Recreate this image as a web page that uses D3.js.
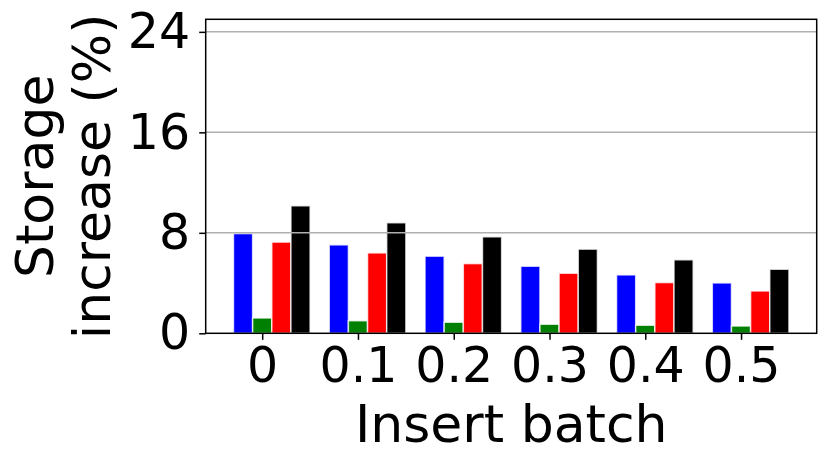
<!DOCTYPE html>
<html><head><meta charset="utf-8">
<script src="https://cdn.jsdelivr.net/npm/d3@7"></script>
<style>body{margin:0;background:#fff}svg{display:block}text{font-family:"DejaVu Sans",sans-serif}</style>
</head><body>
<svg id="c" width="830" height="466"></svg>
<script>
const categories = ["0","0.1","0.2","0.3","0.4","0.5"];
const blueVals  = [7.94, 7.04, 6.14, 5.34, 4.65, 4.01];
const greenVals = [1.22, 1.00, 0.88, 0.72, 0.64, 0.58];
const redVals   = [7.26, 6.40, 5.55, 4.78, 4.04, 3.37];
const blackVals = [10.15, 8.80, 7.68, 6.70, 5.85, 5.10];
const seriesColors = ["#0000ff","#008000","#ff0000","#000000"];
const yTicks = [0, 8, 16, 24];

const svg = d3.select("#c");
const L = 205.7, R = 816.7, T = 19.3, B = 333.3;
const x = d3.scaleLinear().domain([-0.59, 5.79]).range([L, R]);
const y = d3.scaleLinear().domain([0, 25]).range([B, T]);
const barW = 0.2;
const series = [blueVals, greenVals, redVals, blackVals];

const gBars = svg.append("g");
series.forEach((vals, k) => {
  gBars.selectAll(null).data(vals).enter().append("rect")
    .attr("x", (d,i) => x(i + (k-1)*barW - barW/2))
    .attr("width", x(barW) - x(0))
    .attr("y", d => y(d))
    .attr("height", d => y(0) - y(d))
    .attr("fill", seriesColors[k])
    .attr("stroke", "#fff").attr("stroke-width", 1.5).attr("stroke-opacity", 0.75);
});

// grid (drawn over bars)
svg.append("g").selectAll("line").data(yTicks.filter(t => t>0)).enter().append("line")
  .attr("x1", L).attr("x2", R).attr("y1", d => y(d)).attr("y2", d => y(d))
  .attr("stroke", "#b0b0b0").attr("stroke-width", 1.5);

// axes
const xAxis = d3.axisBottom(x).tickValues(d3.range(categories.length)).tickFormat(i => categories[i]).tickSize(6.5).tickPadding(7);
const gx = svg.append("g").attr("transform", `translate(0,${B})`).call(xAxis);
gx.select(".domain").remove();
gx.selectAll("line").attr("stroke", "#000").attr("stroke-width", 1.5);
gx.selectAll("text").attr("font-size", 49).attr("fill", "#000").attr("font-family", "DejaVu Sans");

const yAxis = d3.axisLeft(y).tickValues(yTicks).tickSize(6.5).tickPadding(9);
const gy = svg.append("g").attr("transform", `translate(${L},0)`).call(yAxis);
gy.select(".domain").remove();
gy.selectAll("line").attr("stroke", "#000").attr("stroke-width", 1.5);
gy.selectAll("text").attr("font-size", 49).attr("fill", "#000").attr("font-family", "DejaVu Sans");

// frame
svg.append("rect").attr("x", L).attr("y", T).attr("width", R-L).attr("height", B-T)
  .attr("fill", "none").attr("stroke", "#000").attr("stroke-width", 1.5);

// labels
svg.append("text").attr("x", (L+R)/2).attr("y", 441.5).attr("text-anchor", "middle")
  .attr("font-size", 52).attr("fill", "#000").text("Insert batch");
const yl = svg.append("text").attr("transform", `translate(0,${(T+B)/2}) rotate(-90)`)
  .attr("text-anchor", "middle").attr("font-size", 52).attr("fill", "#000");
yl.append("tspan").attr("x", 0).attr("y", 53).text("Storage");
yl.append("tspan").attr("x", 0).attr("y", 110).text("increase (%)");
</script>
</body></html>
